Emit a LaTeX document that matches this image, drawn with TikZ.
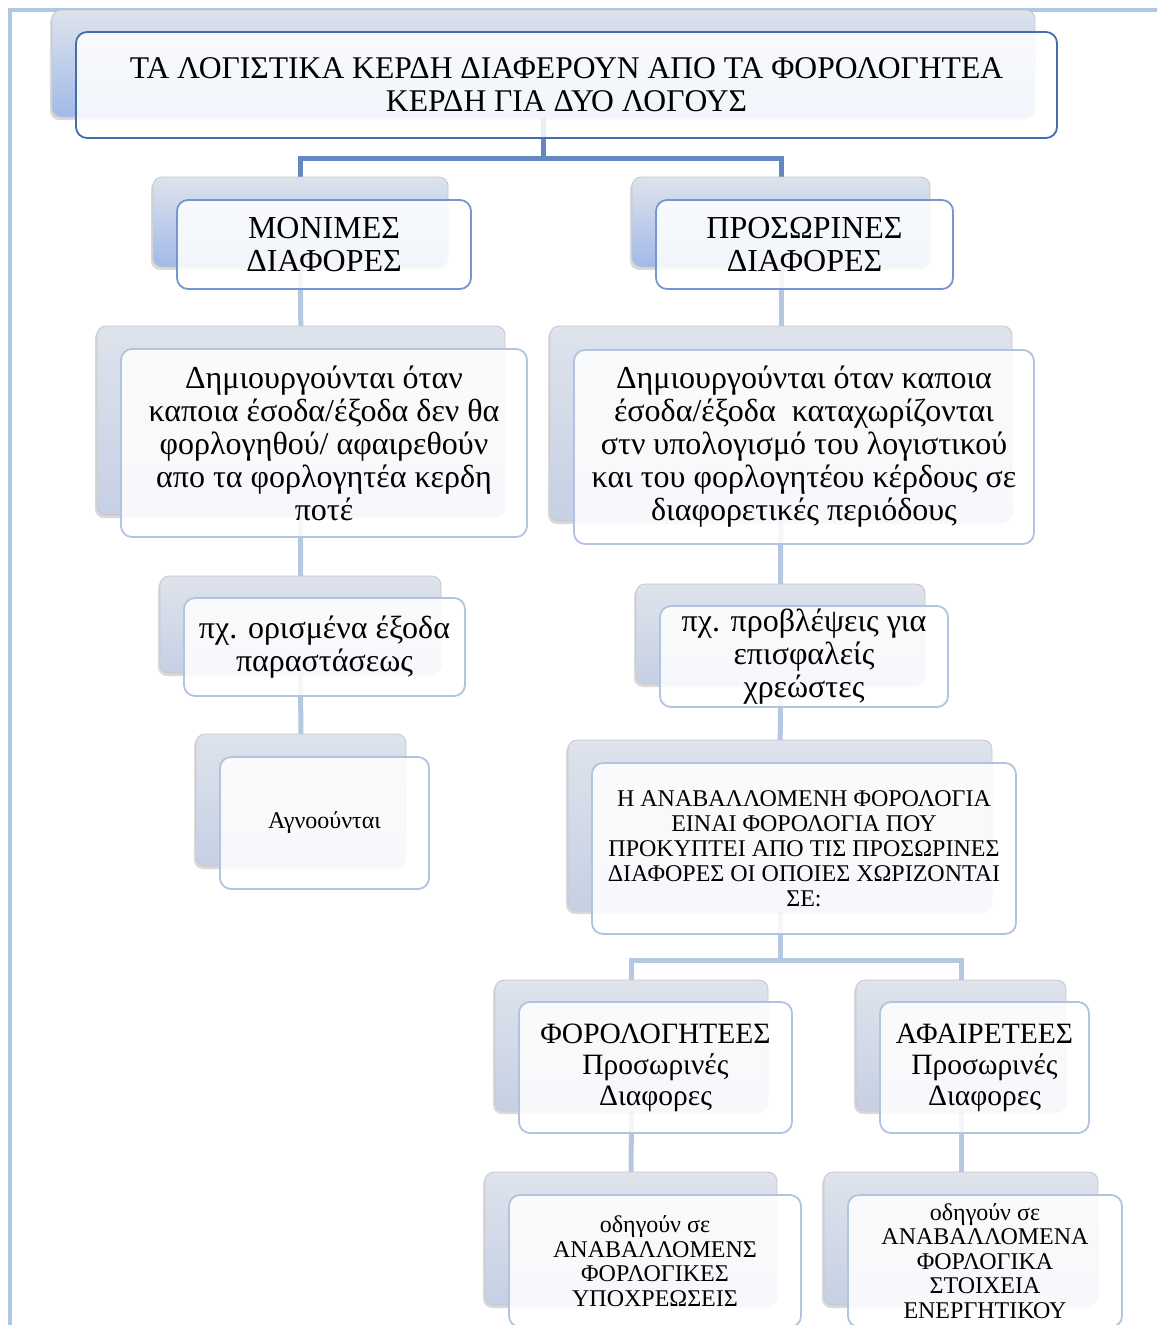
\documentclass[tikz,border=0pt]{standalone}
\usepackage{fontspec}
\setmainfont{Liberation Serif}
\usetikzlibrary{shadows,backgrounds}

\definecolor{framecol}{RGB}{175,198,228}
\definecolor{linkdark}{RGB}{100,135,192}
\definecolor{linklight}{RGB}{182,199,226}
\definecolor{edgedark}{RGB}{70,108,176}
\definecolor{edgemid}{RGB}{118,150,208}
\definecolor{edgelight}{RGB}{178,195,226}
\definecolor{backtop}{RGB}{222,227,236}
\definecolor{backblue}{RGB}{160,186,232}
\definecolor{backgrey}{RGB}{198,208,228}

\newcommand{\fsize}[2]{\fontsize{#1}{#2}\selectfont}

\tikzset{
  backbox/.style={rounded corners=9pt, draw=black!22, line width=0.8pt,
    top color=backtop, bottom color=backgrey, outer sep=0pt,
    drop shadow={shadow xshift=-2pt, shadow yshift=-3pt, opacity=0.3}},
  backboxblue/.style={backbox, bottom color=backblue},
  frontbox/.style={rounded corners=11pt, draw=edgelight, line width=1.8pt,
    fill=white, fill opacity=0.86, text opacity=1, align=center,
    inner sep=0pt, outer sep=0pt},
  link/.style={line width=5pt, linklight},
  linktop/.style={line width=5pt, linkdark}
}

\begin{document}
\begin{tikzpicture}[x=1pt,y=-1pt]
\useasboundingbox (0,0) rectangle (1157,1325);
\clip (0,0) rectangle (1157,1325);

% outer frame
\draw[framecol, line width=4pt] (10,1330) -- (10,10) -- (1160,10);

% level 0
\node[backboxblue, minimum width=983pt, minimum height=107pt] (titleback) at (543.5,63.5) {};
\node[frontbox, draw=edgedark, minimum width=981pt, minimum height=106pt, font=\fsize{31.6}{33}] (title) at (566.5,85)
  {ΤΑ ΛΟΓΙΣΤΙΚΑ ΚΕΡΔΗ ΔΙΑΦΕΡΟΥΝ ΑΠΟ ΤΑ ΦΟΡΟΛΟΓΗΤΕΑ\\ΚΕΡΔΗ ΓΙΑ ΔΥΟ ΛΟΓΟΥΣ};

% level 1
\node[backboxblue, minimum width=295pt, minimum height=90pt] (permback) at (300.5,222) {};
\node[frontbox, draw=edgemid, minimum width=294pt, minimum height=89pt, font=\fsize{32}{33}] (perm) at (324,244.5)
  {ΜΟΝΙΜΕΣ\\ΔΙΑΦΟΡΕΣ};
\node[backboxblue, minimum width=298pt, minimum height=90pt] (tempback) at (781,222) {};
\node[frontbox, draw=edgemid, minimum width=297pt, minimum height=89pt, font=\fsize{32}{33}] (temp) at (804.5,244.5)
  {ΠΡΟΣΩΡΙΝΕΣ\\ΔΙΑΦΟΡΕΣ};

% level 2
\node[backbox, minimum width=408pt, minimum height=189pt] (permdescback) at (301,420.5) {};
\node[frontbox, minimum width=406pt, minimum height=188pt, font=\fsize{32}{33}] (permdesc) at (324,443)
  {Δημιουργούνται όταν\\καποια έσοδα/έξοδα δεν θα\\φορλογηθού/ αφαιρεθούν\\απο τα φορλογητέα κερδη\\ποτέ};
\node[backbox, minimum width=462pt, minimum height=195pt] (tempdescback) at (781,423.5) {};
\node[frontbox, minimum width=460pt, minimum height=194pt, font=\fsize{32}{33}] (tempdesc) at (804,447)
  {Δημιουργούνται όταν καποια\\έσοδα/έξοδα\ \ καταχωρίζονται\\στν υπολογισμό του λογιστικού\\και του φορλογητέου κέρδους σε\\διαφορετικές περιόδους};

% level 3
\node[backbox, minimum width=281pt, minimum height=97pt] (permexback) at (300.5,624.5) {};
\node[frontbox, minimum width=281pt, minimum height=98pt, font=\fsize{32}{33}] (permex) at (324.5,647)
  {πχ. ορισμένα έξοδα\\παραστάσεως};
\node[backbox, minimum width=289pt, minimum height=100pt] (tempexback) at (780.5,634) {};
\node[frontbox, minimum width=288pt, minimum height=101pt, font=\fsize{32}{33}] (tempex) at (804,656.5)
  {πχ. προβλέψεις για\\επισφαλείς\\χρεώστες};

% level 4
\node[backbox, minimum width=210pt, minimum height=132pt] (ignoredback) at (301,800) {};
\node[frontbox, minimum width=209pt, minimum height=132pt, font=\fsize{24}{26}] (ignored) at (324.5,823)
  {Αγνοούνται};
\node[backbox, minimum width=424pt, minimum height=171pt] (deferredback) at (780,825.5) {};
\node[frontbox, minimum width=424pt, minimum height=171pt, font=\fsize{24}{25}] (deferred) at (804,848.5)
  {Η ΑΝΑΒΑΛΛΟΜΕΝΗ ΦΟΡΟΛΟΓΙΑ\\ΕΙΝΑΙ ΦΟΡΟΛΟΓΙΑ ΠΟΥ\\ΠΡΟΚΥΠΤΕΙ ΑΠΟ ΤΙΣ ΠΡΟΣΩΡΙΝΕΣ\\ΔΙΑΦΟΡΕΣ ΟΙ ΟΠΟΙΕΣ ΧΩΡΙΖΟΝΤΑΙ\\ΣΕ:};

% level 5
\node[backbox, minimum width=273pt, minimum height=131pt] (taxableback) at (631.5,1045.5) {};
\node[frontbox, minimum width=273pt, minimum height=131pt, font=\fsize{29.5}{31}] (taxable) at (655.5,1067.5)
  {ΦΟΡΟΛΟΓΗΤΕΕΣ\\Προσωρινές\\Διαφορες};
\node[backbox, minimum width=210pt, minimum height=131pt] (deductback) at (961,1045.5) {};
\node[frontbox, minimum width=209pt, minimum height=131pt, font=\fsize{29.5}{31}] (deduct) at (984.5,1067.5)
  {ΑΦΑΙΡΕΤΕΕΣ\\Προσωρινές\\Διαφορες};

% level 6
\node[backbox, minimum width=292pt, minimum height=133pt] (liabback) at (631,1238.5) {};
\node[frontbox, minimum width=292pt, minimum height=132pt, font=\fsize{24}{24.5}] (liab) at (655,1261)
  {οδηγούν σε\\ΑΝΑΒΑΛΛΟΜΕΝΣ\\ΦΟΡΛΟΓΙΚΕΣ\\ΥΠΟΧΡΕΩΣΕΙΣ};
\node[backbox, minimum width=274pt, minimum height=133pt] (assetback) at (961,1238.5) {};
\node[frontbox, minimum width=274pt, minimum height=132pt, font=\fsize{24}{24.5}] (asset) at (985,1261)
  {οδηγούν σε\\ΑΝΑΒΑΛΛΟΜΕΝΑ\\ΦΟΡΛΟΓΙΚΑ\\ΣΤΟΙΧΕΙΑ\\ΕΝΕΡΓΗΤΙΚΟΥ};

% connectors behind the boxes
\begin{pgfonlayer}{background}
  \draw[linktop] (titleback) -- (titleback |- 0,158) -| (permback);
  \draw[linktop] (titleback |- 0,158) -| (tempback);
  \draw[link] (permback) -- (permdescback);
  \draw[link] (permdescback) -- (permexback);
  \draw[link] (permexback) -- (ignoredback);
  \draw[link] (tempback) -- (tempdescback);
  \draw[link] (tempdescback) -- (tempexback);
  \draw[link] (tempexback) -- (deferredback);
  \draw[link] (deferredback) -- (deferredback |- 0,960) -| (taxableback);
  \draw[link] (deferredback |- 0,960) -| (deductback);
  \draw[link] (taxableback) -- (liabback);
  \draw[link] (deductback) -- (assetback);
\end{pgfonlayer}
\end{tikzpicture}
\end{document}
